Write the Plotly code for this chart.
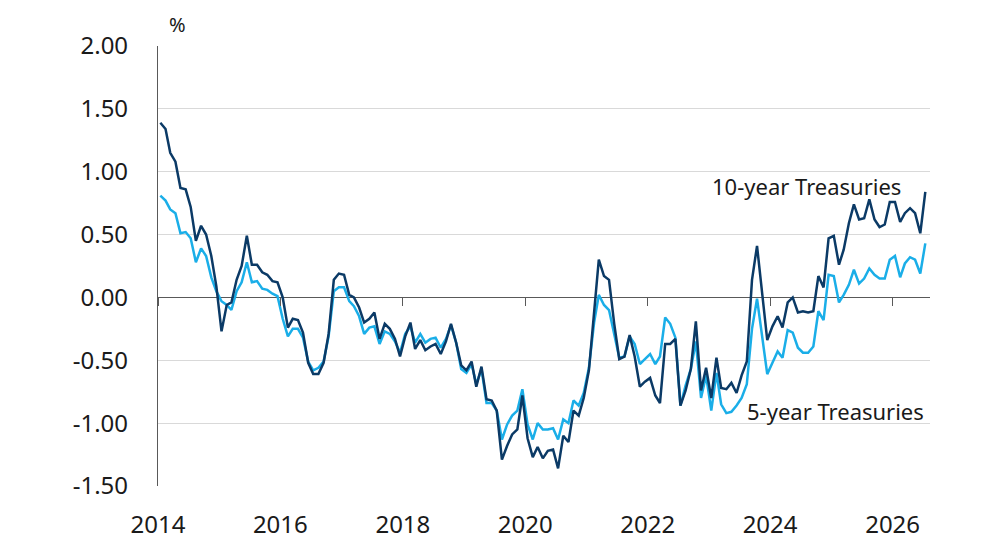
import pandas as pd
import plotly.graph_objects as go

# monthly spreads, Jan 2014 - Jul 2026 (plotted mid-month)
months = pd.date_range("2014-01-01", periods=151, freq="MS") + pd.Timedelta(days=14)

ten_year = [
    1.39, 1.34, 1.15, 1.08, 0.87, 0.86, 0.72, 0.45, 0.57, 0.50, 0.33, 0.09,
    -0.27, -0.06, -0.04, 0.14, 0.25, 0.49, 0.26, 0.26, 0.20, 0.18, 0.13, 0.12,
    0.00, -0.24, -0.17, -0.18, -0.28, -0.52, -0.61, -0.61, -0.52, -0.29, 0.14, 0.19,
    0.18, 0.02, 0.00, -0.08, -0.20, -0.17, -0.12, -0.33, -0.21, -0.25, -0.33, -0.47,
    -0.31, -0.20, -0.41, -0.34, -0.42, -0.39, -0.37, -0.45, -0.35, -0.21, -0.36, -0.54,
    -0.58, -0.51, -0.71, -0.55, -0.81, -0.82, -0.90, -1.29, -1.18, -1.09, -1.05, -0.78,
    -1.12, -1.27, -1.19, -1.28, -1.22, -1.21, -1.36, -1.10, -1.15, -0.90, -0.94, -0.80,
    -0.58, -0.15, 0.30, 0.17, 0.14, -0.21, -0.49, -0.47, -0.30, -0.47, -0.71, -0.67,
    -0.64, -0.78, -0.84, -0.37, -0.37, -0.33, -0.86, -0.74, -0.57, -0.19, -0.74, -0.56,
    -0.80, -0.48, -0.72, -0.73, -0.68, -0.76, -0.62, -0.51, 0.14, 0.41, 0.05, -0.34,
    -0.23, -0.15, -0.24, -0.04, 0.00, -0.12, -0.11, -0.12, -0.11, 0.17, 0.08, 0.47,
    0.49, 0.26, 0.38, 0.59, 0.74, 0.62, 0.63, 0.78, 0.62, 0.56, 0.58, 0.76,
    0.76, 0.60, 0.67, 0.71, 0.67, 0.51, 0.84,
]

five_year = [
    0.81, 0.77, 0.70, 0.67, 0.51, 0.52, 0.47, 0.28, 0.39, 0.33, 0.16, 0.05,
    -0.03, -0.06, -0.10, 0.05, 0.12, 0.28, 0.12, 0.13, 0.07, 0.06, 0.03, 0.01,
    -0.17, -0.31, -0.25, -0.25, -0.32, -0.51, -0.58, -0.56, -0.51, -0.31, 0.05, 0.08,
    0.08, -0.03, -0.07, -0.15, -0.29, -0.24, -0.23, -0.37, -0.27, -0.29, -0.35, -0.44,
    -0.29, -0.23, -0.36, -0.29, -0.36, -0.33, -0.32, -0.40, -0.33, -0.22, -0.36, -0.57,
    -0.60, -0.53, -0.69, -0.57, -0.84, -0.84, -0.90, -1.13, -1.01, -0.94, -0.90, -0.73,
    -1.01, -1.13, -1.00, -1.05, -1.05, -1.04, -1.13, -0.97, -1.00, -0.82, -0.86, -0.76,
    -0.56, -0.20, 0.02, -0.06, -0.10, -0.29, -0.48, -0.47, -0.31, -0.37, -0.53, -0.49,
    -0.45, -0.53, -0.47, -0.16, -0.21, -0.32, -0.86, -0.70, -0.57, -0.35, -0.80, -0.62,
    -0.90, -0.60, -0.85, -0.92, -0.91, -0.86, -0.80, -0.69, -0.25, -0.01, -0.33, -0.61,
    -0.52, -0.43, -0.48, -0.26, -0.28, -0.40, -0.44, -0.44, -0.39, -0.11, -0.18, 0.18,
    0.17, -0.04, 0.02, 0.10, 0.22, 0.11, 0.15, 0.23, 0.18, 0.15, 0.15, 0.30,
    0.33, 0.16, 0.27, 0.32, 0.30, 0.19, 0.43,
]

year_ticks = ["2014-01-01", "2016-01-01", "2018-01-01", "2020-01-01",
              "2022-01-01", "2024-01-01", "2026-01-01"]
year_labels = ["2014", "2016", "2018", "2020", "2022", "2024", "2026"]
y_ticks = [2.0, 1.5, 1.0, 0.5, 0.0, -0.5, -1.0, -1.5]
y_labels = ["2.00", "1.50", "1.00", "0.50", "0.00", "-0.50", "-1.00", "-1.50"]

font = "Noto Sans"
txt = "#1a1a1a"
x_range = ["2014-01-01", "2026-08-12"]

fig = go.Figure()
fig.add_trace(go.Scatter(x=months, y=five_year, mode="lines", name="5-year Treasuries",
                         line=dict(color="#1aaee8", width=2.5)))
fig.add_trace(go.Scatter(x=months, y=ten_year, mode="lines", name="10-year Treasuries",
                         line=dict(color="#0b3a66", width=2.5)))

# page body adds an 8px offset, so margins are trimmed by 8 on left/top
fig.update_layout(
    width=992, height=558,
    margin=dict(l=150, r=70, t=38, b=80),
    plot_bgcolor="white", paper_bgcolor="white",
    showlegend=False,
    font=dict(family=font, color=txt),
    xaxis=dict(
        range=x_range, tickvals=year_ticks, ticktext=year_labels,
        showgrid=False, zeroline=False, showline=False, ticks="",
        tickfont=dict(size=24, color=txt), ticklabelstandoff=22,
    ),
    # second x axis just for the tick marks sitting on the zero line
    xaxis2=dict(
        overlaying="x", anchor="free", position=1.5 / 3.5, side="bottom",
        range=x_range, tickvals=year_ticks, showticklabels=False,
        showgrid=False, zeroline=False, showline=False,
        ticks="outside", ticklen=8, tickcolor="#595959", tickwidth=1.2,
    ),
    yaxis=dict(
        range=[-1.5, 2.0], tickvals=y_ticks, ticktext=y_labels,
        showgrid=True, gridcolor="#d9d9d9", gridwidth=1,
        zeroline=True, zerolinecolor="#595959", zerolinewidth=1.2,
        showline=True, linecolor="#595959", linewidth=1.2,
        tickfont=dict(size=24, color=txt), ticklabelstandoff=24,
    ),
)
# dummy invisible trace so xaxis2 is drawn
fig.add_trace(go.Scatter(x=[x_range[0]], y=[None], xaxis="x2", showlegend=False,
                         hoverinfo="skip"))

fig.add_annotation(x=0.0, y=1.0, xref="paper", yref="paper", text="%",
                   showarrow=False, xanchor="left", yanchor="bottom",
                   font=dict(size=20, color=txt), yshift=6, xshift=9)
fig.add_annotation(x=0.965, y=0.682, xref="paper", yref="paper", text="10-year Treasuries",
                   showarrow=False, xanchor="right", yanchor="middle",
                   font=dict(size=22, color=txt))
fig.add_annotation(x=0.995, y=0.170, xref="paper", yref="paper", text="5-year Treasuries",
                   showarrow=False, xanchor="right", yanchor="middle",
                   font=dict(size=22, color=txt))

fig.write_html("out.html")
